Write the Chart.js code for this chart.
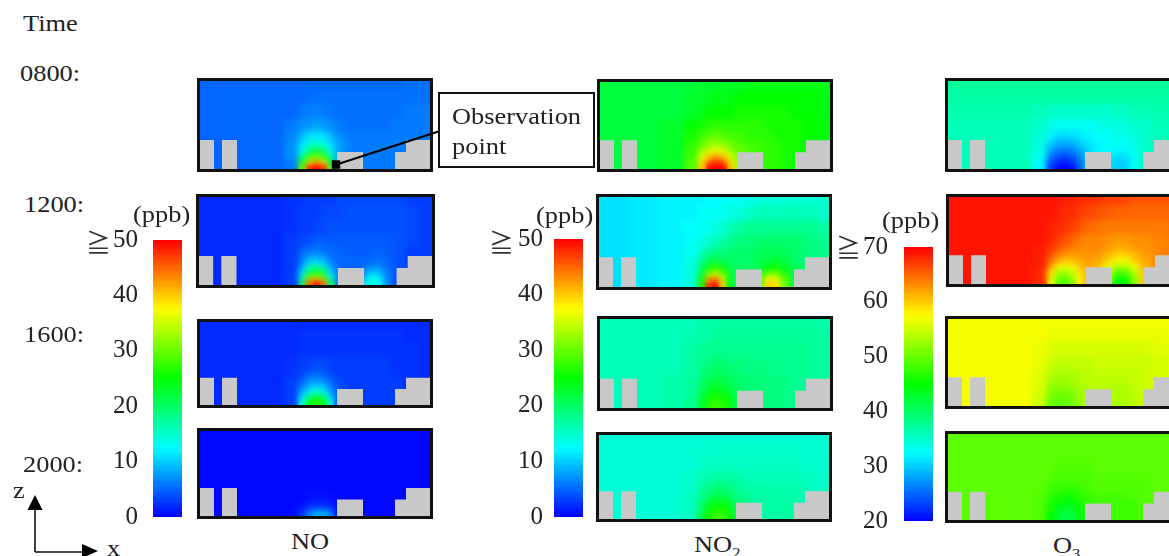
<!DOCTYPE html>
<html><head><meta charset="utf-8">
<script src="https://cdn.jsdelivr.net/npm/chart.js@4"></script>
<style>
html,body{margin:0;padding:0;background:#fff;width:1169px;height:556px;overflow:hidden}
.t{position:absolute;font-family:"Liberation Serif",serif;color:#222;font-size:24px;line-height:24px;white-space:nowrap;transform-origin:left center;transform:scaleX(1.1)}
.p{position:absolute;box-sizing:border-box;border:3px solid #111;overflow:hidden;background:#fff}
.p canvas,.b canvas{display:block}
.b{position:absolute}
sub{font-size:15px;line-height:0}
</style></head><body>
<script>
// ---------- sampled positions of the cross-section (x along street, z height) ----------
const xs=[15,45,75,95,103,110,117,124,131,139,150,160,170,178,186,196,212,228];
const zs=[86,72,56,42,32,24,17,11,6,2];
const times=['0800:','1200:','1600:','2000:'];
const species=['NO','NO2','O3'];
const NO_ticks=[0,10,20,30,40,50];
const O3_ticks=[20,30,40,50,60,70];
const NO_levels=[0,1,2,3,4,5,6,7,8,9,10,11,12,13,14,15,16,17,18,19,20,21,22,23,24,25,26,27,28,29,30,31,32,33,34,35,36,37,38,39,40,41,42,43,44,45,46,47,48,49,50];
const O3_levels=[20,21,22,23,24,25,26,27,28,29,30,31,32,33,34,35,36,37,38,39,40,41,42,43,44,45,46,47,48,49,50,51,52,53,54,55,56,57,58,59,60,61,62,63,64,65,66,67,68,69,70];
const buildingX=[0,14,14,22,22,37,37,137,137,163,163,195,195,206,206,230,230];
const buildingZ=[29,29,0,0,29,29,0,0,17,17,0,0,17,17,29,29,0];

// ---------- concentrations (ppb), rows top to bottom ----------
const NO_0800=[
[5,5,5,5,5,5,5,5,5,5,5,5,5,5,5,5,5.5,5.5],
[5,5,5,5,5,5.5,5.5,5.5,5.5,5.5,5.5,5.5,5.5,5.5,5.5,5.5,5.5,5.5],
[5,5,5,5,6,6,6.5,6,6,5.5,5.5,5.5,5.5,5.5,5.5,5.5,6,6],
[5,5,5,6,7,7.5,8,7.5,7,6,5.5,5.5,5.5,5.5,5.5,6,6,6],
[5,5,5,6.5,9,11,11.5,11,9,7,6,6,6,6,6,6,6,6],
[5,5,5,7,11,14,15,14,11,8,6.5,6,6,6,6,6,6,6],
[5,5,5,7,13,20,23,20,13,8,6,6,6,6,6,6,6,6],
[5,5,5,7,18,28,31,28,18,8,6,6,6,6,6,6,6,6],
[5,5,5,6,24,38,42,38,22,8,6,6,6,6,6,6,6,6],
[5,5,5,6,30,48,50,48,30,8,6,6,6,6,6,6,6,6]];
const NO_1200=[
[2,2,2,2.5,2.5,3,3,3,3,3.5,3.5,3.5,3.5,3.5,3.5,3.5,3,3],
[2,2,2,2.5,3,3,3,3.5,3.5,3.5,4,4,4,4,4,4,3.5,3],
[2,2,2,2.5,3,3,3.5,3.5,4,4,4,4,4,4,4,4,3.5,3],
[2,2,2,3,3.5,4,4.5,4.5,4.5,4.5,4.5,4.5,4.5,4.5,4.5,4,3.5,3],
[2,2,2,3,5,6,6.5,6,5,5,4.5,4.5,4.5,5,4.5,4,3,3],
[2,2,2,3,6,9,10,9,6,5,5,5,5,5.5,5,4,3,3],
[2,2,2,3,8,15,17,15,8,5,5,5,6.5,7,5.5,4,3,3],
[2,2,2,3,11,22,26,22,11,5,5,5,10,10,6,4,3,3],
[2,2,2,3,16,32,37,32,16,5,5,7,13,13,7,4,3,3],
[2,2,2,3,20,45,50,45,20,5,5,9,14,13,7,3,3,3]];
const NO_1600=[
[2,2,2,2,2,2,2,2,2,2,2,2,2,2,2,2,2,2],
[2,2,2,2,2.5,2.5,2.5,2.5,2.5,2.5,2.5,2.5,2.5,2.5,2.5,2.5,2,2],
[2,2,2,2,2.5,2.5,2.5,2.5,2.5,2.5,2.5,2.5,2.5,2.5,2.5,2.5,2.5,2],
[2,2,2,2.5,3,3,3.5,3.5,3,3,3,3,3,3,3,2.5,2.5,2],
[2,2,2,2.5,3.5,4.5,5,4.5,3.5,3,3,3,3,3,3,2.5,2.5,2],
[2,2,2,3,5,7,7.5,7,5,3.5,3,3,3,3,3,3,2.5,2],
[2,2,2,3,7,10,12,10,7,4,3,3,3,3,3,3,2.5,2],
[2,2,2,3,9,15,18,15,9,4,3,3,3,3,3,3,2.5,2],
[2,2,2,3,12,21,25,21,12,4,3,3,3,3,3,3,2.5,2],
[2,2,2,3,14,25,27,25,14,4,3,3,3,3,3,3,2.5,2]];
const NO_2000=[
[.3,.3,.3,.3,.3,.3,.3,.3,.3,.3,.3,.3,.3,.3,.3,.3,.3,.3],
[.3,.3,.3,.3,.3,.3,.3,.3,.3,.3,.3,.3,.3,.3,.3,.3,.3,.3],
[.3,.3,.3,.3,.3,.3,.3,.3,.3,.3,.3,.3,.3,.3,.3,.3,.3,.3],
[.3,.3,.3,.3,.3,.3,.3,.3,.3,.3,.3,.3,.3,.3,.3,.3,.3,.3],
[.3,.3,.3,.3,.3,.3,.4,.4,.3,.3,.3,.3,.3,.3,.3,.3,.3,.3],
[.3,.3,.3,.3,.4,.5,.6,.6,.5,.3,.3,.3,.3,.3,.3,.3,.3,.3],
[.3,.3,.3,.3,.5,.8,1,1,.8,.4,.3,.3,.3,.3,.3,.3,.3,.3],
[.3,.3,.3,.3,.8,1.5,2,2,1.5,.5,.3,.3,.3,.3,.3,.3,.3,.3],
[.3,.3,.3,.4,1.5,3.5,4.5,4.5,3.5,.7,.3,.3,.3,.3,.3,.3,.3,.3],
[.3,.3,.3,.4,3,7,9,9,7,1,.3,.3,.3,.3,.3,.3,.3,.3]];
const NO2_0800=[
[22,22,22,22,23,23,23,23,23,23,24,24,24,24,24,24,24,24],
[22,22,22,23,23,24,24,24,24,25,25,25,25,25,25,25,25,24],
[22,22,22,23,24,25,25,25,25,26,26,26,26,26,26,25,25,24],
[22,22,23,25,26,27,27,27,27,27,27,27,26,26,26,26,25,25],
[22,22,23,26,28,29,30,29,28,28,27,27,27,26,26,26,25,25],
[22,22,23,27,30,32,33,32,30,29,28,28,27,27,26,26,25,25],
[22,22,23,28,33,36,37,36,33,30,29,28,27,27,26,26,25,25],
[22,22,23,28,36,41,43,41,36,31,29,28,27,27,26,26,25,25],
[22,22,23,29,39,46,48,46,39,32,30,28,27,27,26,26,25,25],
[22,22,23,29,40,50,50,50,40,33,30,28,27,27,26,26,25,25]];
const NO2_1200=[
[11,11.5,12,12,12,12.5,12.5,13,13,13,13.5,14,14,14,14.5,14.5,14.5,14.5],
[11,11.5,12,12,12.5,13,13,13,14,14,15,16,16,16,16,16,16,15],
[11,11.5,12,12.5,13,13.5,14,15,16,17,18,18,18,18,18,18,18,17],
[11,11.5,12,13,14,15,16,17,18,19,19,20,20,20,20,20,19,18],
[11,11.5,12,13,16,18,19,19,20,20,20,21,21,21,21,20,19,18],
[11,11.5,12,14,18,21,22,21,20,20,20,21,22,23,22,20,19,18],
[11,11.5,12,14,20,26,28,26,22,20,20,21,25,26,24,21,19,18],
[11,11.5,12,14,22,32,36,31,24,20,20,23,32,32,27,22,19,18],
[11,11.5,12,14,24,42,46,36,24,20,20,26,38,38,30,22,19,18],
[11,11.5,12,14,26,48,50,40,24,20,20,28,40,39,30,22,19,18]];
const NO2_1600=[
[16,16,16,16,16.5,17,17,17,17,17,17,17,17,17,17,17,17,16.5],
[16,16,16,16.5,17,17,17.5,17.5,17.5,17.5,17.5,17.5,17.5,17.5,17.5,17.5,17.5,17],
[16,16,16,17,17.5,18,18,18,18,18,18,18,18,18,18,18,17.5,17],
[16,16,16,17,18,19,19.5,19.5,19,19,18.5,18.5,18.5,18.5,18,18,17.5,17],
[16,16,16.5,17,19,20,21,20.5,20,19.5,19,19,18.5,18.5,18,18,17.5,17],
[16,16,16.5,17.5,20,21.5,22,21.5,21,20,19,19,19,19,18.5,18,17.5,17],
[16,16,16.5,17.5,21,23,24,23,22,20,19.5,19,19,19,18.5,18,17.5,17],
[16,16,16.5,18,22,25,26,25,23,20,19.5,19,19,19,18.5,18,17.5,17],
[16,16,16.5,18,23,26,27,26,24,21,19.5,19,19,19,18.5,18,17.5,17],
[16,16,16.5,18,23,27,28,27,24,21,19.5,19,19,19,18.5,18,17.5,17]];
const NO2_2000=[
[14.5,14.5,14.5,14.5,14.5,14.5,14.5,14.5,14.5,14.5,14.5,14.5,14.5,14.5,14.5,14.5,14.5,14.5],
[14.5,14.5,14.5,14.5,14.5,15,15,15,15,15,15,15,15,15,15,15,14.5,14.5],
[14.5,14.5,14.5,14.5,15,15.5,15.5,15.5,15.5,15.5,15.5,15.5,15.5,15.5,15.5,15.5,15,14.5],
[14.5,14.5,14.5,15,16,16.5,17,17,17,16.5,16,16,16,16,16,16,15.5,15],
[14.5,14.5,14.5,15,17,18,19,19,18.5,17.5,17,16.5,16.5,16.5,16.5,16.5,16,15],
[14.5,14.5,14.5,15.5,18,20,21,21,20,18.5,17.5,17,17,17,17,16.5,16,15],
[14.5,14.5,14.5,15.5,19,22,23.5,23.5,22,19.5,18,17,17,17,17,17,16,15],
[14.5,14.5,14.5,15.5,20,24,25.5,25.5,24,20,18,17,17,17,17,17,16,15],
[14.5,14.5,14.5,15.5,20.5,25,27,27,25,20.5,18,17,17,17,17,17,16,15],
[14.5,14.5,14.5,15.5,21,26,28,28,26,21,18,17,17,17,17,17,16,15]];
const O3_0800=[
[37.5,37.5,37.5,37.5,37.5,37.5,37.5,37.5,37.5,37.5,37.5,37.5,37.5,37.5,37.5,37.5,37.5,37.5],
[37,37,37,37,37,37,37,37,37,37,37,37,37,37,37,37,37,37],
[36.5,36.5,36.5,36,35.5,35,35,35,35,35,35,35,35.5,35.5,36,36,36.5,36.5],
[36,36,36,35,33.5,33,33,33,33,33,33.5,34,34,34.5,35,35,36,36],
[36,36,36,34.5,32,31,30.5,31,31.5,32,32.5,33,33.5,33.5,34,35,36,36],
[36,36,36,34,30,28.5,28,28.5,29.5,31,32,32.5,33,33,33.5,35,36,36],
[36,36,36,33.5,28,26,25.5,26,27.5,30,32,32.5,32,32,33,35,36,36],
[36,36,36,33,26,24,23.5,24,26,29,31.5,32,31,31,33,35,36,36],
[36,36,36,32.5,24,22,21.5,22,25,28,31,31,30,30,33,35,36,36],
[36,36,36,32,23,20.5,20,20.5,24,28,30,30,30,30,33,35,36,36]];
const O3_1200=[
[69,69,69,69,69,69,68.5,68.5,68,68,67.5,67,67,66.5,66,66,66,66],
[69,69,69,69,69,68.5,68,68,67,66.5,66,65.5,65,65,65,65,65,65],
[69,69,69,69,68.5,68,67.5,67,66,65,64.5,64,64,64,64,64,64,64.5],
[69,69,69,69,68,67,66,65,64,63.5,63.5,63,62.5,62.5,63,63,63.5,64],
[69,69,69,68.5,67,65,64,63,63,63,63,62,61,61,62,62.5,63.5,64],
[69,69,69,68.5,65,62,61,61,62,62.5,62,60,58,58,60,62,63.5,64],
[69,69,69,68.5,62,58,57,58,60,62,61,57,54,54,57,61,63.5,64],
[69,69,69,68,59,53,53,55,59,61,60,54,49,49,54,60,63,64],
[69,69,69,68,57,50,50,53,58,61,59,52,46,46,52,60,63,64],
[69,69,69,68,56,49,49,52,58,61,59,51,45,45,52,60,63,64]];
const O3_1600=[
[57,57,57,57,57,57,57,57,57,57,57,57,57,57,57,57,57,57],
[57,57,57,57,56.5,56.5,56.5,56.5,56.5,56.5,56.5,56.5,56.5,56.5,56.5,56.5,56.5,57],
[57,57,57,56.5,56,55.5,55.5,55.5,55.5,55.5,55.5,55.5,55.5,55.5,55.5,55.5,56,56.5],
[57,57,57,56.5,55,54.5,54.5,54.5,54.5,54.5,55,55,55,55,55,55,55.5,56],
[57,57,57,56,54,53.5,53.5,53.5,54,54,54.5,54.5,54.5,54.5,54.5,55,55.5,56],
[57,57,57,56,53,52.5,52.5,53,53.5,54,54,54,54,54,54.5,55,55.5,56],
[57,57,57,55.5,52,51.5,51.5,52,53,53.5,54,54,53.5,53.5,54,55,55.5,56],
[57,57,57,55.5,51,50.5,50.5,51,52.5,53.5,54,54,53.5,53.5,54,55,55.5,56],
[57,57,57,55,50.5,49.5,49.5,50.5,52,53.5,54,54,53.5,53.5,54,55,55.5,56],
[57,57,57,55,50.5,49.5,49.5,50.5,52,53.5,54,54,53.5,53.5,54,55,55.5,56]];
const O3_2000=[
[49.5,49.5,49.5,49.5,49.5,49.5,49.5,49.5,49.5,49.5,49.5,49.5,49.5,49.5,49.5,49.5,49.5,49.5],
[49.5,49.5,49.5,49.5,49.5,49.5,49.5,49.5,49.5,49.5,49.5,49.5,49.5,49.5,49.5,49.5,49.5,49.5],
[49.5,49.5,49.5,49.5,49.5,49,49,49,49,49,49.5,49.5,49.5,49.5,49.5,49.5,49.5,49.5],
[49.5,49.5,49.5,49.5,49,48.5,48.5,48.5,48.5,48.5,49,49,49,49,49,49,49.5,49.5],
[49.5,49.5,49.5,49.5,48,48,47.5,47.5,48,48.5,49,49,49,49,49,49,49.5,49.5],
[49.5,49.5,49.5,49,47.5,46.5,46,46,46.5,47.5,48.5,48.5,48.5,48.5,49,49,49.5,49.5],
[49.5,49.5,49.5,49,46.5,45,44.5,44.5,45.5,47,48,48,48,48,48,49,49.5,49.5],
[49.5,49.5,49.5,49,46,44,43,43,44.5,46.5,48,48,48,48,48,49,49.5,49.5],
[49.5,49.5,49.5,49,45.5,43,42,42,44,46,48,48,48,48,48,49,49.5,49.5],
[49.5,49.5,49.5,49,45,42.5,41.5,41.5,43.5,46,48,48,48,48,48,49,49.5,49.5]];
const obsPoint=[{x:136,y:4.5}];

// ---------- layout ----------
const panelBox=[
 [NO_0800,0,50,197,78,236,94],[NO_1200,0,50,196,194,239,94],[NO_1600,0,50,197,319,236,89],[NO_2000,0,50,197,428,236,91],
 [NO2_0800,0,50,597,79,236,93],[NO2_1200,0,50,596,194,236,96],[NO2_1600,0,50,597,316,236,95],[NO2_2000,0,50,596,432,236,90],
 [O3_0800,20,70,945,78,236,94],[O3_1200,20,70,946,194,236,93],[O3_1600,20,70,945,316,236,93],[O3_2000,20,70,945,431,236,92]];
const barBox=[
 [NO_levels,NO_ticks,0,50,153,240,29,277,15],
 [NO_levels,NO_ticks,0,50,554,239,29,278,11],
 [O3_levels,O3_ticks,20,70,904,247,29,274,16]];

function rainbow(f){
 f=Math.max(0,Math.min(1,f));
 let r=0,g=0,b=0;
 if(f<.25){g=f/.25;b=1}
 else if(f<.5){g=1;b=(.5-f)/.25}
 else if(f<.75){r=(f-.5)/.25;g=1}
 else{r=1;g=(1-f)/.25}
 return `rgb(${Math.round(r*255)},${Math.round(g*255)},${Math.round(b*255)})`;
}
// cell drawn around its sample: a = extent left/up of it, b = extent right/down of it (px); the rest is transparent
function swatch(aX,bX,aY,bY,color){
 const hw=Math.ceil(Math.max(aX,bX))+1,hh=Math.ceil(Math.max(aY,bY))+1;
 const c=document.createElement('canvas');c.width=2*hw;c.height=2*hh;
 const g=c.getContext('2d');g.fillStyle=color;
 g.fillRect(Math.floor(hw-aX-.5),Math.floor(hh-aY-.5),Math.ceil(aX+bX+1),Math.ceil(aY+bY+1));return c;
}
function reach(a,lo,hi){ // distance from each ascending sample to the cell edges
 return a.map((v,i)=>[v-(i>0?(a[i-1]+v)/2:lo),(i<a.length-1?(a[i+1]+v)/2:hi)-v]);
}
const softPlugin={id:'soft',afterDatasetDraw(chart,args,opts){
 const ds=chart.data.datasets[args.index];
 if(!ds.blurPx)return;
 const c=chart.canvas,tmp=document.createElement('canvas');tmp.width=c.width;tmp.height=c.height;
 tmp.getContext('2d').drawImage(c,0,0);
 const a=chart.chartArea,ctx=chart.ctx;
 ctx.save();ctx.setTransform(1,0,0,1,0,0);ctx.beginPath();ctx.rect(a.left,a.top,a.right-a.left,a.bottom-a.top);ctx.clip();
 ctx.filter=`blur(${ds.blurPx}px)`;ctx.drawImage(tmp,0,0);ctx.restore();
}};
const X_MAX=230,Z_MAX=88;
panelBox.forEach(([rows,lo,hi,left,top,w,h],i)=>{
 const d=document.createElement('div');d.className='p';
 d.style.cssText=`left:${left}px;top:${top}px;width:${w}px;height:${h}px`;
 const cv=document.createElement('canvas');const iw=w-6,ih=h-6;cv.width=iw;cv.height=ih;d.appendChild(cv);document.body.appendChild(d);
 const rx=reach(xs,0,X_MAX),zAsc=zs.slice().reverse(),rzAsc=reach(zAsc,0,Z_MAX),rz=rzAsc.slice().reverse();
 const kx=iw/X_MAX,kz=ih/Z_MAX;
 const pts=[],imgs=[];
 rows.forEach((row,ri)=>row.forEach((v,ci)=>{
  pts.push({x:xs[ci],y:zs[ri],v});
  imgs.push(swatch(rx[ci][0]*kx,rx[ci][1]*kx,rz[ri][1]*kz,rz[ri][0]*kz,rainbow((v-lo)/(hi-lo))));
 }));
 const sets=[];
 if(i===0)sets.push({label:'Observation point',data:obsPoint,pointStyle:'rect',pointRadius:6,backgroundColor:'#000',borderWidth:0});
 sets.push({label:'Buildings',data:buildingX.map((x,k)=>({x,y:buildingZ[k]})),showLine:true,fill:'origin',tension:0,borderWidth:0,pointRadius:0,backgroundColor:'#c8c8c8',borderColor:'#c8c8c8'});
 sets.push({label:species[Math.floor(i/4)]+' '+times[i%4],data:pts,pointStyle:imgs,pointRadius:3,pointRotation:0,blurPx:3});
 new Chart(cv,{type:'scatter',data:{datasets:sets},plugins:[softPlugin],options:{
  responsive:false,animation:false,layout:{padding:0,autoPadding:false},
  plugins:{legend:{display:false},tooltip:{enabled:false}},
  scales:{x:{type:'linear',display:false,min:0,max:X_MAX},y:{type:'linear',display:false,min:0,max:Z_MAX}}}});
});
barBox.forEach(([levels,ticks,lo,hi,left,top,w,h,gap])=>{
 const AXW=70,PAD=16;
 const d=document.createElement('div');d.className='b';
 d.style.cssText=`left:${left-AXW}px;top:${top-PAD}px`;
 const cv=document.createElement('canvas');cv.width=AXW+w;cv.height=h+PAD*2;d.appendChild(cv);document.body.appendChild(d);
 const step=h/(levels.length-1);
 new Chart(cv,{type:'scatter',data:{datasets:[{label:'ppb',data:levels.map(v=>({x:.5,y:v})),
   pointStyle:levels.map(v=>swatch(w/2,w/2,step/2,step/2,rainbow((v-lo)/(hi-lo)))),pointRadius:3,pointRotation:0,blurPx:1}]},
  plugins:[softPlugin],options:{responsive:false,animation:false,layout:{padding:{top:PAD,bottom:PAD},autoPadding:false},
  plugins:{legend:{display:false},tooltip:{enabled:false}},
  scales:{x:{type:'linear',display:false,min:0,max:1},
   y:{type:'linear',min:lo,max:hi,afterFit(s){s.width=AXW;s.paddingTop=0;s.paddingBottom=0},afterBuildTicks(s){s.ticks=ticks.map(value=>({value}))},
    border:{display:false},grid:{display:false,drawTicks:false},
    ticks:{padding:gap,color:'#222',font:{family:'"Liberation Serif",serif',size:25},
     callback:v=>String(v)}}}}});
});

function label(html,x,y,extra){const e=document.createElement('div');e.className='t';e.innerHTML=html;e.style.cssText=`left:${x}px;top:${y-12}px;`+(extra||'');document.body.appendChild(e);}
label('Time',23,23);
label(times[0],20,73);label(times[1],24,204);label(times[2],24,334);label(times[3],23,464);
label('(ppb)',133,214);label('(ppb)',536,215);label('(ppb)',882,220);
label('NO',291,541);label('NO<sub>2</sub>',694,544);label('O<sub>3</sub>',1053,545);
label('z',13,490);label('x',107,548);
const geq='font-family:"Noto Sans CJK JP",sans-serif;transform:none;color:#333;font-size:25px;';
label('≧',86,241,geq);label('≧',489,241,geq);label('≧',836,246,geq);
const svg=document.createElementNS('http://www.w3.org/2000/svg','svg');
svg.setAttribute('width',1169);svg.setAttribute('height',556);svg.style.cssText='position:absolute;left:0;top:0';
svg.innerHTML=`<line x1="335" y1="165" x2="440" y2="131" stroke="#000" stroke-width="2"/>
<path d="M35 552V505M35 552H84" stroke="#111" stroke-width="1.6" fill="none"/>
<path d="M35 495L27.5 510H42.5Z" fill="#000"/><path d="M98 551L82 544V558Z" fill="#000"/>`;
document.body.appendChild(svg);
const box=document.createElement('div');
box.style.cssText='position:absolute;left:438px;top:92px;width:157px;height:76px;box-sizing:border-box;border:2.5px solid #111;background:#fff';
document.body.appendChild(box);
label('Observation',452,116);label('point',452,146);
</script>
</body></html>
